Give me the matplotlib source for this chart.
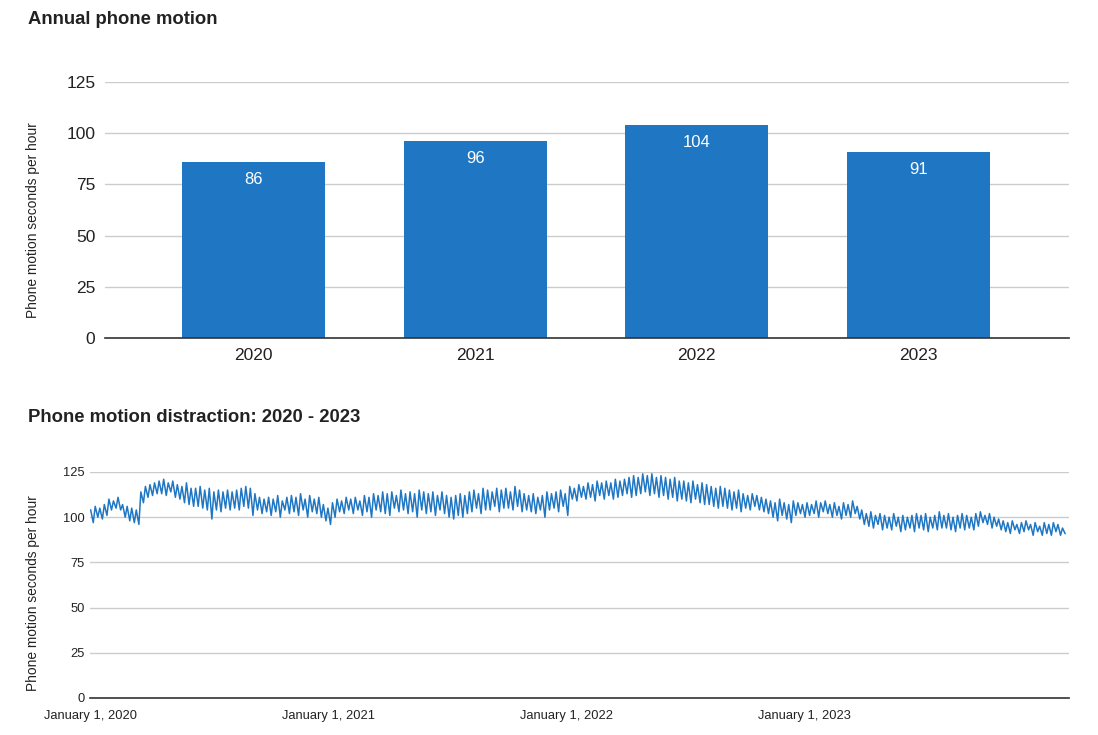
import matplotlib
matplotlib.use("Agg")
import matplotlib.pyplot as plt
import numpy as np
import pandas as pd

plt.rcParams['font.family'] = ['Liberation Sans', 'DejaVu Sans']

# ---------------- data ----------------
years = ["2020", "2021", "2022", "2023"]
annual_values = [86, 96, 104, 91]

# weekly high (weekday) and low (weekend) readings, starting week of 2020-01-01
weekly_highs = [
    # 2020
    104, 106, 105, 107, 110, 109, 111, 107, 106, 105, 104, 114, 117, 118, 119,
    120, 121, 119, 120, 118, 117, 119, 116, 116, 117, 115, 116, 114, 115, 114, 115,
    114, 115, 116, 117, 116, 113, 111, 110, 111, 110, 112, 109, 111, 112, 111, 113, 110,
    112, 110, 111, 107, 105,
    # 2021
    108, 110, 109, 111, 110, 111, 109, 112, 111, 113, 112, 114, 113, 114, 112, 115, 113,
    114, 113, 115, 114, 113, 114, 112, 114, 112, 111, 112, 113, 112, 114, 115, 113, 116,
    115, 114, 116, 115, 116, 114, 117, 115, 113, 112, 113, 111, 112, 114, 113, 114, 115,
    113,
    # 2022
    117, 116, 118, 117, 119, 118, 120, 119, 120, 119, 121, 120, 121, 122, 123, 122, 124,
    123, 124, 122, 123, 122, 121, 122, 120, 120, 119, 120, 118, 119, 118, 117, 116, 117,
    116, 115, 114, 115, 113, 112, 113, 112, 111, 110, 109, 108, 110, 108, 107, 109, 108,
    107,
    # 2023 - early 2024
    108, 107, 109, 108, 109, 107, 108, 106, 108, 107, 109, 106, 104, 102, 103, 101, 102,
    101, 100, 102, 100, 101, 100, 101, 102, 101, 102, 100, 101, 103, 101, 102, 100, 101,
    102, 101, 100, 102, 103, 101, 102, 100, 99, 98, 97, 98, 96, 97, 98, 96, 97, 95,
    97, 96, 97, 96, 94,
]
weekly_lows = [
    # 2020
    97, 100, 99, 101, 104, 105, 104, 100, 98, 97, 96, 108, 111, 112, 113,
    113, 112, 114, 111, 110, 108, 107, 106, 106, 105, 104, 99, 104, 103, 105, 104,
    105, 104, 106, 105, 101, 104, 102, 103, 101, 103, 100, 104, 102, 103, 101, 104, 100,
    103, 102, 100, 98, 96,
    # 2021
    100, 103, 102, 104, 102, 104, 101, 103, 100, 104, 103, 102, 101, 105, 103, 104, 102,
    103, 100, 104, 102, 103, 101, 104, 102, 100, 99, 101, 100, 102, 103, 105, 102, 104,
    104, 106, 103, 105, 105, 104, 106, 103, 104, 103, 102, 104, 100, 104, 105, 103, 106,
    101,
    # 2022
    110, 109, 111, 110, 111, 109, 112, 110, 112, 110, 111, 112, 113, 111, 112, 113, 114,
    112, 113, 111, 112, 110, 111, 109, 110, 109, 108, 110, 108, 107, 107, 106, 105, 106,
    105, 104, 105, 103, 105, 104, 106, 104, 103, 102, 100, 98, 101, 99, 97, 101, 102,
    100,
    # 2023 - early 2024
    101, 102, 100, 103, 102, 100, 101, 99, 101, 100, 102, 99, 96, 95, 94, 96, 93,
    94, 93, 95, 92, 93, 94, 92, 94, 93, 92, 94, 93, 94, 94, 93, 92, 94,
    93, 94, 93, 95, 97, 96, 94, 95, 93, 92, 91, 93, 91, 92, 93, 90, 92, 90,
    91, 90, 92, 90, 91,
]
x_tick_labels = ["January 1, 2020", "January 1, 2021", "January 1, 2022", "January 1, 2023"]
y_ticks = [0, 25, 50, 75, 100, 125]

# ---------------- build series ----------------
start = pd.Timestamp("2020-01-01")
n = min(len(weekly_highs), len(weekly_lows))
dates, vals = [], []
for i in range(n):
    dates.append(start + pd.Timedelta(days=7 * i + 1))
    vals.append(weekly_highs[i])
    dates.append(start + pd.Timedelta(days=7 * i + 5))
    vals.append(weekly_lows[i])

BLUE = "#1f77c4"
TXT = "#222222"
GRID = "#cccccc"

fig = plt.figure(figsize=(10.98, 7.35), dpi=100)

# ---------------- top: bar chart ----------------
ax1 = fig.add_axes([105 / 1098, 1 - 338 / 735, 964 / 1098, 256 / 735])
xpos = np.arange(len(years))
bars = ax1.bar(xpos, annual_values, width=0.645, color=BLUE, zorder=3)
for b, v in zip(bars, annual_values):
    ax1.text(b.get_x() + b.get_width() / 2, v - 8.5, f"{v}", ha="center", va="center",
             color="white", fontsize=12, zorder=4)
ax1.set_xlim(-0.67, 3.68)
ax1.set_ylim(0, 125)
ax1.set_yticks(y_ticks)
ax1.set_xticks(xpos)
ax1.set_xticklabels(years)
ax1.grid(axis="y", color=GRID, linewidth=1, zorder=0)
for s in ["top", "right", "left"]:
    ax1.spines[s].set_visible(False)
ax1.spines["bottom"].set_color("#333333")
ax1.spines["bottom"].set_linewidth(1.2)
ax1.spines["bottom"].set_zorder(5)
ax1.tick_params(axis="both", length=0, labelsize=12.5, colors=TXT)
ax1.tick_params(axis="y", pad=7)
ax1.tick_params(axis="x", pad=7)
ax1.set_ylabel("Phone motion seconds per hour", fontsize=9.9, color=TXT)
ax1.yaxis.set_label_coords(-0.0674, 0.461)
fig.text(28 / 1098, 1 - 20 / 735, "Annual phone motion", fontsize=13.3,
         fontweight="bold", color=TXT, ha="left", va="center")

# ---------------- bottom: line chart ----------------
ax2 = fig.add_axes([90 / 1098, 1 - 698 / 735, 979 / 1098, 226 / 735])
ax2.plot(dates, vals, color=BLUE, linewidth=1.1, zorder=3)
ax2.set_xlim(pd.Timestamp("2020-01-01"), pd.Timestamp("2024-02-11"))
ax2.set_ylim(0, 125)
ax2.set_yticks(y_ticks)
tick_dates = [pd.Timestamp(f"{y}-01-01") for y in years]
ax2.set_xticks(tick_dates)
ax2.set_xticklabels(x_tick_labels)
ax2.grid(axis="y", color=GRID, linewidth=1, zorder=0)
for s in ["top", "right", "left"]:
    ax2.spines[s].set_visible(False)
ax2.spines["bottom"].set_color("#333333")
ax2.spines["bottom"].set_linewidth(1.2)
ax2.spines["bottom"].set_zorder(5)
ax2.tick_params(axis="both", length=0, labelsize=9.3, colors=TXT)
ax2.tick_params(axis="y", pad=4)
ax2.tick_params(axis="x", pad=9)
ax2.set_ylabel("Phone motion seconds per hour", fontsize=9.9, color=TXT)
ax2.yaxis.set_label_coords(-0.0511, 0.465)
fig.text(28 / 1098, 1 - 417 / 735, "Phone motion distraction: 2020 - 2023", fontsize=13.3,
         fontweight="bold", color=TXT, ha="left", va="center")

fig.savefig("out.png", dpi=100)
